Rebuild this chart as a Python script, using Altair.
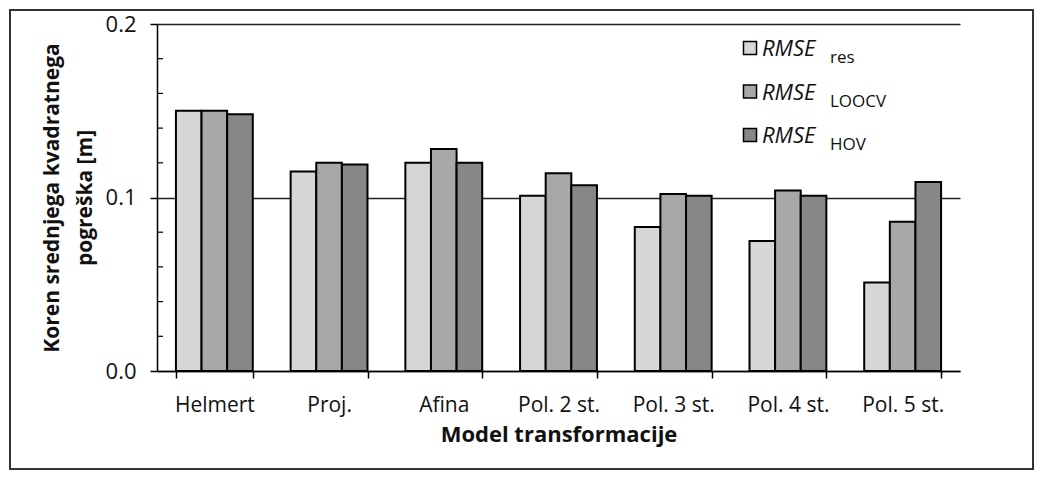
import altair as alt
import pandas as pd

categories = ["Helmert", "Proj.", "Afina", "Pol. 2 st.", "Pol. 3 st.", "Pol. 4 st.", "Pol. 5 st."]
series = ["res", "LOOCV", "HOV"]
rmse_res = [0.150, 0.115, 0.120, 0.101, 0.083, 0.075, 0.051]
rmse_loocv = [0.150, 0.120, 0.128, 0.114, 0.102, 0.104, 0.086]
rmse_hov = [0.148, 0.119, 0.120, 0.107, 0.101, 0.101, 0.109]
colors = ["#d6d6d6", "#a8a8a8", "#878787"]
major_ticks = [0.0, 0.1, 0.2]
minor_ticks = [0.02, 0.04, 0.06, 0.08, 0.12, 0.14, 0.16, 0.18]

FONT = "Open Sans"
W, H = 803, 347

rows = []
for name, vals in zip(series, [rmse_res, rmse_loocv, rmse_hov]):
    for c, v in zip(categories, vals):
        rows.append({"model": c, "series": name, "value": v})
df = pd.DataFrame(rows)

yscale = alt.Scale(domain=[0, 0.2], nice=False, zero=True)

bars = alt.Chart(df).mark_bar(stroke="black", strokeWidth=2).encode(
    x=alt.X("model:N", sort=categories,
            scale=alt.Scale(paddingInner=0.33, paddingOuter=0.165),
            axis=alt.Axis(title="Model transformacije", labelAngle=0, tickBand="extent",
                          tickSize=7, tickColor="black", domainColor="black",
                          domainWidth=1.5, tickWidth=1.5,
                          labelFont=FONT, labelFontSize=21, labelColor="#111",
                          labelPadding=16,
                          titleFont=FONT, titleFontSize=22, titleFontWeight="bold",
                          titleColor="#111", titlePadding=9)),
    xOffset=alt.XOffset("series:N", sort=series, scale=alt.Scale(paddingInner=0, paddingOuter=0)),
    y=alt.Y("value:Q", scale=yscale,
            axis=alt.Axis(values=major_ticks, format=".1f", grid=True, gridColor="#222",
                          gridWidth=1.5, tickSize=7, tickColor="black", tickWidth=1.5,
                          domainColor="black", domainWidth=1.5,
                          labelFont=FONT, labelFontSize=22, labelColor="#111",
                          labelPadding=14,
                          title=["Koren srednjega kvadratnega", "pogreška [m]"],
                          titleFont=FONT, titleFontSize=21, titleFontWeight="bold",
                          titleColor="#111", titleLineHeight=33, titlePadding=10)),
    color=alt.Color("series:N", sort=series, scale=alt.Scale(domain=series, range=colors), legend=None),
)

minor = alt.Chart(pd.DataFrame({"v": minor_ticks})).mark_rule(color="black", strokeWidth=1.2).encode(
    y=alt.Y("v:Q", scale=yscale, axis=None),
    x=alt.value(0), x2=alt.value(6),
)

leg_df = pd.DataFrame({"series": series, "row": [0, 1, 2], "label": ["RMSE"] * 3, "sub": series})
legy = alt.Y("row:Q", scale=alt.Scale(domain=[0, 2], range=[24, 111]), axis=None)

leg_sq = alt.Chart(leg_df).mark_square(size=170, stroke="black", strokeWidth=1.5, opacity=1).encode(
    x=alt.value(593), y=legy,
    fill=alt.Fill("series:N", sort=series, scale=alt.Scale(domain=series, range=colors), legend=None),
)
leg_txt = alt.Chart(leg_df).mark_text(align="left", baseline="alphabetic", font=FONT,
                                      fontSize=22, fontStyle="italic", color="#111", dy=8).encode(
    x=alt.value(605), y=legy, text="label:N",
)
leg_sub = alt.Chart(leg_df).mark_text(align="left", baseline="alphabetic", font=FONT,
                                      fontSize=17, color="#111", dy=15).encode(
    x=alt.value(673), y=legy, text="sub:N",
)

frame = alt.Chart(pd.DataFrame({"a": [0]})).mark_rect(fill=None, stroke="#333", strokeWidth=2).encode(
    x=alt.value(-147), x2=alt.value(W + 73), y=alt.value(-14), y2=alt.value(H + 98),
)

chart = alt.layer(bars, minor, leg_sq, leg_txt, leg_sub, frame).resolve_scale(
    y="independent", fill="independent", color="independent"
).properties(
    width=W, height=H,
    autosize=alt.AutoSizeParams(type="none"),
    padding={"left": 149, "top": 16, "right": 75, "bottom": 100},
    background="white",
).configure_view(stroke=None)

chart.save("out.html", embed_options={"renderer": "svg", "actions": False})
